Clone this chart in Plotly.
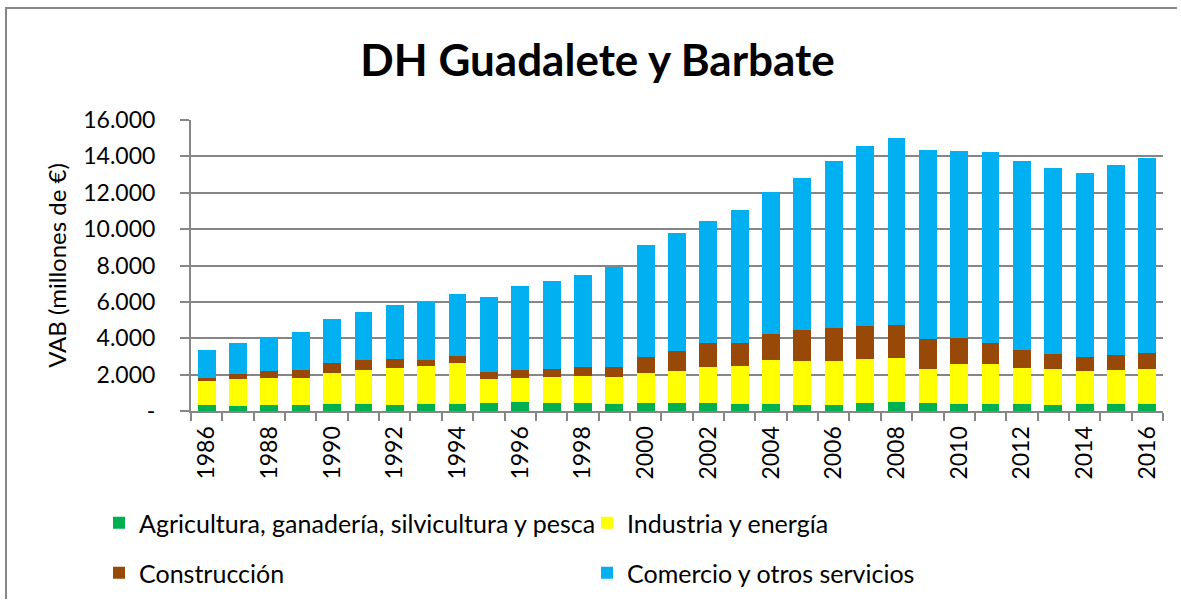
import plotly.graph_objects as go

# Valor añadido bruto por sector, DH Guadalete y Barbate (millones de €)
years = list(range(1986, 2017))
agricultura = [313, 275, 330, 313, 368, 368, 330, 385, 385, 440,
               478, 423, 440, 385, 423, 423, 440, 368, 403, 313,
               313, 423, 478, 440, 385, 385, 368, 348, 368, 385, 385]
industria = [1317, 1465, 1500, 1517, 1732, 1882, 2050, 2070, 2235, 1300,
             1337, 1447, 1485, 1465, 1647, 1792, 1980, 2087, 2417, 2452,
             2437, 2437, 2452, 1885, 2180, 2180, 1997, 1977, 1847, 1885, 1940]
construccion = [200, 310, 350, 420, 560, 550, 460, 345, 420, 395,
                420, 420, 475, 585, 915, 1100, 1300, 1300, 1430, 1705,
                1810, 1830, 1800, 1650, 1430, 1175, 990, 825, 770, 790, 845]
comercio = [1525, 1690, 1890, 2110, 2400, 2640, 2970, 3170, 3390, 4145,
            4655, 4855, 5075, 5480, 6140, 6485, 6720, 7290, 7770, 8330,
            9160, 9855, 10270, 10365, 10290, 10510, 10380, 10200, 10110, 10440, 10750]

y_tickvals = [0, 2000, 4000, 6000, 8000, 10000, 12000, 14000, 16000]
y_ticktext = ["-", "2.000", "4.000", "6.000", "8.000", "10.000", "12.000", "14.000", "16.000"]

series = [
    ("Agricultura, ganadería, silvicultura y pesca", agricultura, "#00B050", "legend"),
    ("Industria y energía", industria, "#FFFF00", "legend"),
    ("Construcción", construccion, "#984807", "legend2"),
    ("Comercio y otros servicios", comercio, "#00B0F0", "legend2"),
]

FONT = "Lato"
W, H = 1181, 603
L, R, T, B = 191, 18, 120, 192
plot_w = W - L - R
plot_h = H - T - B

fig = go.Figure()
for name, vals, color, leg in series:
    fig.add_trace(go.Bar(
        x=years, y=vals, name=name, legend=leg,
        marker=dict(color=color, line=dict(width=0)),
    ))


def px_x(p):
    return (p - L) / plot_w


def px_y(p):
    return (H - B - p) / plot_h


legend_common = dict(
    orientation="h", xanchor="left", yanchor="middle",
    entrywidth=443, entrywidthmode="pixels",
    font=dict(family=FONT, size=25, color="#000000"),
    bgcolor="rgba(0,0,0,0)", itemclick=False, itemdoubleclick=False,
    traceorder="normal",
)

# Chart-area frame: left and top edges, kept inside the page
frame_path = "M {:.5f},{:.5f} L {:.5f},{:.5f} L {:.5f},{:.5f}".format(
    px_x(6), px_y(H - 4), px_x(6), px_y(8), px_x(W - 4), px_y(8))

fig.update_layout(
    width=W, height=H,
    margin=dict(l=L, r=R, t=T, b=B, autoexpand=False),
    paper_bgcolor="#FFFFFF", plot_bgcolor="#FFFFFF",
    barmode="stack", bargap=0.43,
    title=dict(
        text="<b>DH Guadalete y Barbate</b>",
        font=dict(family=FONT, size=44, color="#000000"),
        x=0.506, xanchor="center", y=1 - 61 / H, yanchor="middle",
    ),
    font=dict(family=FONT, size=23, color="#000000"),
    legend=dict(x=px_x(99), y=px_y(523), **legend_common),
    legend2=dict(x=px_x(99), y=px_y(573), **legend_common),
    xaxis=dict(
        range=[1985.5, 2016.5],
        tick0=1986, dtick=2, ticks="", tickangle=-90,
        ticklabelstandoff=4,
        tickfont=dict(family=FONT, size=23, color="#000000"),
        showgrid=False, zeroline=False,
        showline=True, linecolor="#868686", linewidth=2,
        minor=dict(ticks="outside", tick0=1985.5, dtick=1, ticklen=8,
                   tickwidth=2, tickcolor="#868686", showgrid=False),
    ),
    yaxis=dict(
        range=[0, 16000],
        tickvals=y_tickvals, ticktext=y_ticktext,
        ticks="outside", ticklen=9, tickwidth=2, tickcolor="#868686",
        ticklabelstandoff=20,
        tickfont=dict(family=FONT, size=23, color="#000000"),
        showgrid=True, gridcolor="#868686", gridwidth=2,
        zeroline=False,
        showline=True, linecolor="#868686", linewidth=2,
        title=dict(text="VAB (millones de €)", standoff=10,
                   font=dict(family=FONT, size=24, color="#000000")),
    ),
    shapes=[dict(
        type="path", xref="paper", yref="paper", layer="above",
        path=frame_path, line=dict(color="#868686", width=2),
        fillcolor="rgba(0,0,0,0)",
    )],
)

fig.write_html("out.html")
